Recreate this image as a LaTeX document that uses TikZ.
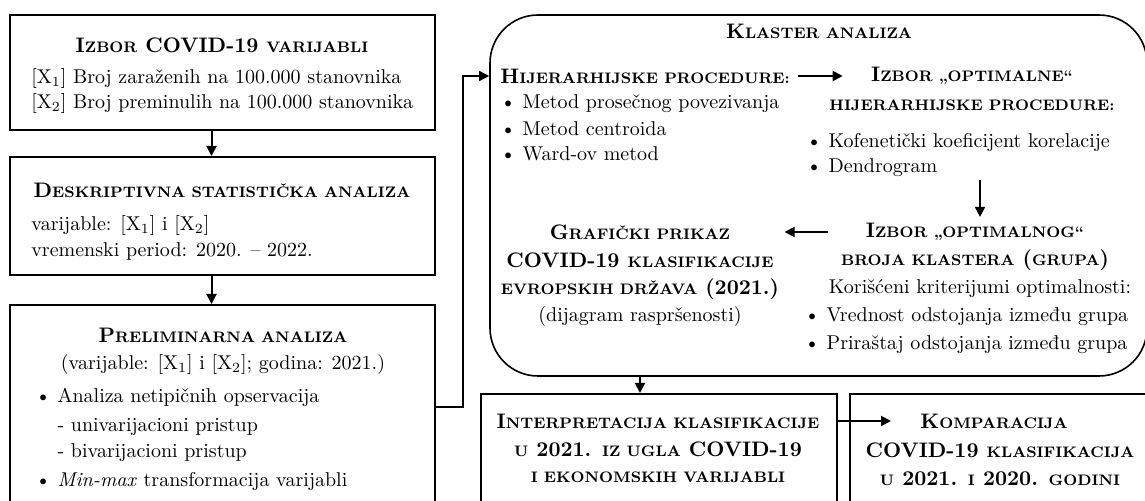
\documentclass[tikz,border=0pt]{standalone}
\usepackage{tikz}
\usetikzlibrary{arrows.meta, positioning, fit, calc}

\newcommand{\sm}[1]{{\fontsize{7.6}{9.2}\selectfont #1}}
\newcommand{\Xa}{[X\textsubscript{1}]}
\newcommand{\Xb}{[X\textsubscript{2}]}

\tikzset{
  boxframe/.style={rectangle, draw=black, line width=1pt, inner sep=0pt},
  roundframe/.style={rectangle, rounded corners=24pt, draw=black,
                     line width=0.8pt, inner sep=0pt},
  ttl/.style={inner sep=0pt, font=\bfseries\fontsize{10.5}{12.6}\selectfont},
  txt/.style={inner sep=0pt, font=\fontsize{10}{12}\selectfont},
  lefttxt/.style={txt, anchor=west},
  arrow/.style={-{Triangle[length=5pt,width=5pt]}, line width=1pt, color=black},
  thinarrow/.style={arrow, line width=0.8pt}
}

\begin{document}
\begin{tikzpicture}[x=0.5pt, y=-0.5pt]
  \useasboundingbox (0,0) rectangle (1145,501);

  % Left column
  \node[boxframe, fit={(10,15) (435,130)}] (izbor) {};
  \node[ttl] (izborT) at (222,45) {I\sm{ZBOR} COVID-19 \sm{VARIJABLI}};
  \node[lefttxt] (izborA) at (31,79) {\Xa{} Broj zaraženih na 100.000 stanovnika};
  \node[lefttxt] (izborB) at (31,104) {\Xb{} Broj preminulih na 100.000 stanovnika};

  \node[boxframe, fit={(10,157) (435,275)}] (desk) {};
  \node[ttl] (deskT) at (222,190) {D\sm{ESKRIPTIVNA STATISTIČKA ANALIZA}};
  \node[lefttxt] (deskA) at (31,226) {varijable: \Xa{} i \Xb};
  \node[lefttxt] (deskB) at (31,252) {vremenski period: 2020. – 2022.};

  \node[boxframe, fit={(10,305) (435,504)}] (prelim) {};
  \node[ttl] (prelimT) at (223,335) {P\sm{RELIMINARNA ANALIZA}};
  \node[txt] (prelimS) at (223,365) {(varijable: \Xa{} i \Xb; godina: 2021.)};
  \node[lefttxt] (prelimA) at (35,397) {\textbullet\ Analiza netipičnih opservacija};
  \node[lefttxt] (prelimB) at (35,427) {\phantom{\textbullet\ }- univarijacioni pristup};
  \node[lefttxt] (prelimC) at (35,453) {\phantom{\textbullet\ }- bivarijacioni pristup};
  \node[lefttxt] (prelimD) at (35,482) {\textbullet\ \textit{Min-max} transformacija varijabli};

  % Cluster analysis
  \node[roundframe, fit={(490,15) (1147,376)}] (klaster) {};
  \node[ttl] (klasterT) at (819,31) {K\sm{LASTER ANALIZA}};
  \node[ttl, anchor=west] (hijer) at (500,76) {H\sm{IJERARHIJSKE PROCEDURE:}};
  \node[lefttxt] (hijerA) at (500,104) {\textbullet\ Metod prosečnog povezivanja};
  \node[lefttxt] (hijerB) at (500,129) {\textbullet\ Metod centroida};
  \node[lefttxt] (hijerC) at (500,154) {\textbullet\ Ward-ov metod};
  \node[ttl] (optP) at (972,76) {I\sm{ZBOR „OPTIMALNE“}};
  \node[ttl] (optPB) at (972,105) {\sm{HIJERARHIJSKE PROCEDURE:}};
  \node[lefttxt] (kofen) at (806,143) {\textbullet\ Kofenetički koeficijent korelacije};
  \node[lefttxt] (dendro) at (806,168) {\textbullet\ Dendrogram};
  \node[ttl] (optK) at (975,232) {I\sm{ZBOR „OPTIMALNOG“}};
  \node[ttl] (optKB) at (975,260) {\sm{BROJA KLASTERA} (\sm{GRUPA})};
  \node[txt] (krit) at (980,289) {Korišćeni kriterijumi optimalnosti:};
  \node[lefttxt] (kritA) at (804,317) {\textbullet\ Vrednost odstojanja između grupa};
  \node[lefttxt] (kritB) at (804,345) {\textbullet\ Priraštaj odstojanja između grupa};
  \node[ttl] (graf) at (640,232) {G\sm{RAFIČKI PRIKAZ}};
  \node[ttl] (grafB) at (640,260) {COVID-19 \sm{KLASIFIKACIJE}};
  \node[ttl] (grafC) at (640,289) {\sm{EVROPSKIH DRŽAVA} (2021.)};
  \node[txt] (grafD) at (640,317) {(dijagram raspršenosti)};

  % Bottom row
  \node[boxframe, fit={(481,394) (837,504)}] (interp) {};
  \node[ttl] (interpA) at (658,421) {I\sm{NTERPRETACIJA KLASIFIKACIJE}};
  \node[ttl] (interpB) at (658,449) {\sm{U} 2021. \sm{IZ UGLA} COVID-19};
  \node[ttl] (interpC) at (658,477) {\sm{I EKONOMSKIH VARIJABLI}};
  \node[boxframe, fit={(850,394) (1150,504)}] (komp) {};
  \node[ttl] (kompA) at (994,421) {K\sm{OMPARACIJA}};
  \node[ttl] (kompB) at (1000,450) {COVID-19 \sm{KLASIFIKACIJA}};
  \node[ttl] (kompC) at (1000,479) {\sm{U} 2021. \sm{I} 2020. \sm{GODINI}};

  % Connectors
  \draw[arrow] ([xshift=-5.5pt]izbor.south) -- ([xshift=-5.5pt]desk.north);
  \draw[arrow] ([xshift=-5.5pt]desk.south) -- ([xshift=-5.5pt]prelim.north);
  \coordinate (jog) at (463,407);
  \draw[thinarrow] (prelim.east |- jog) -- (jog) |- (klaster.west |- hijer);
  \draw[arrow, shorten <=4pt, shorten >=14pt] (hijer.east) -- (optP.west);
  \draw[arrow, shorten <=1.5pt, shorten >=3pt]
      ([xshift=2.5pt]optK.north |- dendro.south) -- ([xshift=2.5pt]optK.north);
  \draw[arrow, shorten <=19pt, shorten >=27pt] (optK.west) -- (graf.east);
  \draw[arrow] (klaster.south -| graf) -- (interp.north -| graf);
  \draw[arrow] (interp.east |- kompA) -- ([xshift=21pt]komp.west |- kompA);
\end{tikzpicture}
\end{document}
